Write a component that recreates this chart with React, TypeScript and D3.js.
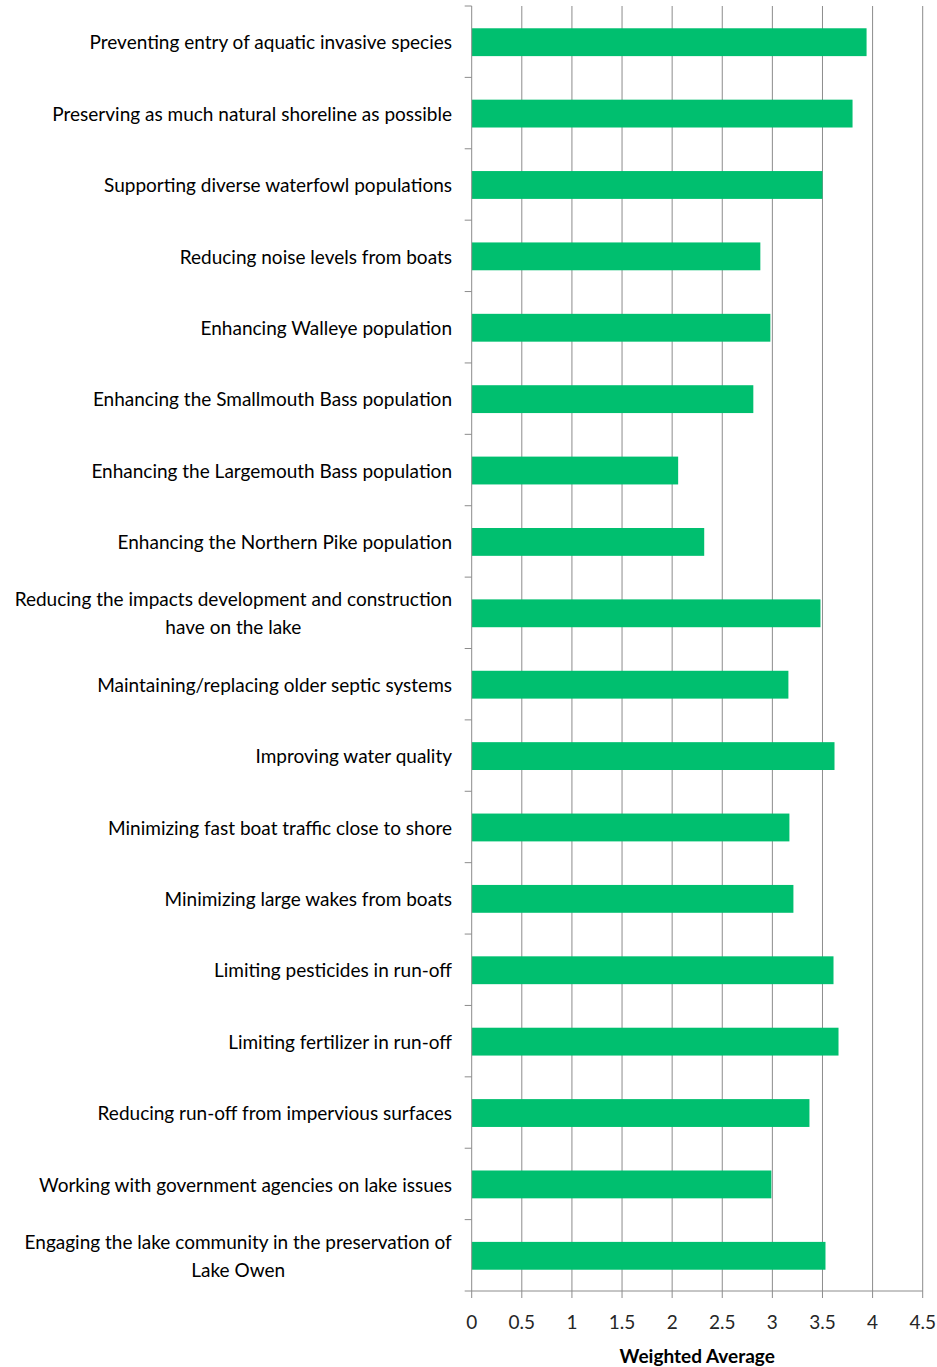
import React from "react";
import * as d3 from "d3";

const categories: string[][] = [
  ["Preventing entry of aquatic invasive species"],
  ["Preserving as much natural shoreline as possible"],
  ["Supporting diverse waterfowl populations"],
  ["Reducing noise levels from boats"],
  ["Enhancing Walleye population"],
  ["Enhancing the Smallmouth Bass population"],
  ["Enhancing the Largemouth Bass population"],
  ["Enhancing the Northern Pike population"],
  ["Reducing the impacts development and construction", "have on the lake"],
  ["Maintaining/replacing older septic systems"],
  ["Improving water quality"],
  ["Minimizing fast boat traffic close to shore"],
  ["Minimizing large wakes from boats"],
  ["Limiting pesticides in run-off"],
  ["Limiting fertilizer in run-off"],
  ["Reducing run-off from impervious surfaces"],
  ["Working with government agencies on lake issues"],
  ["Engaging the lake community in the preservation of", "Lake Owen"],
];

const values: number[] = [
  3.94, 3.8, 3.5, 2.88, 2.98, 2.81, 2.06, 2.32, 3.48, 3.16, 3.62, 3.17, 3.21,
  3.61, 3.66, 3.37, 2.99, 3.53,
];

const xTicks: number[] = [0, 0.5, 1, 1.5, 2, 2.5, 3, 3.5, 4, 4.5];
const axisTitle = "Weighted Average";

const W = 937;
const H = 1367;
const left = 471.7;
const right = 922.7;
const top = 6;
const bottom = 1291;
const font = "Lato, 'Open Sans', sans-serif";
const labelSize = 19;

function measure(s: string): number {
  if (typeof document === "undefined") return s.length * 8.5;
  const c = document.createElement("canvas");
  const ctx = c.getContext("2d");
  if (!ctx) return s.length * 8.5;
  ctx.font = `${labelSize}px Lato, 'Open Sans', sans-serif`;
  return ctx.measureText(s).width;
}

export default function App() {
  const x = d3.scaleLinear().domain([0, 4.5]).range([left, right]);
  const y = d3
    .scaleBand<number>()
    .domain(d3.range(categories.length))
    .range([top, bottom])
    .paddingInner(0.61)
    .paddingOuter(0.305);
  const band = (bottom - top) / categories.length;
  const boundaries = d3.range(categories.length + 1).map((i) => top + i * band);
  const labelRight = 452;

  return (
    <svg
      width={W}
      height={H}
      style={{ position: "absolute", left: 0, top: 0, background: "#fff" }}
      fontFamily={font}
    >
      {xTicks.slice(1).map((t) => (
        <line
          key={"g" + t}
          x1={x(t)}
          x2={x(t)}
          y1={top}
          y2={bottom}
          stroke="#8c8c8c"
          strokeWidth={1}
        />
      ))}
      {values.map((v, i) => (
        <rect
          key={"b" + i}
          x={x(0)}
          y={(y(i) as number) + 0.5}
          width={x(v) - x(0)}
          height={y.bandwidth()}
          fill="#00bf6f"
        />
      ))}
      {/* y axis */}
      <line x1={left} x2={left} y1={top} y2={bottom} stroke="#8c8c8c" strokeWidth={1} />
      {boundaries.map((b, i) => (
        <line key={"yt" + i} x1={left - 7} x2={left} y1={b} y2={b} stroke="#8c8c8c" />
      ))}
      {/* x axis */}
      <line x1={left} x2={right} y1={bottom} y2={bottom} stroke="#8c8c8c" strokeWidth={1} />
      {xTicks.map((t) => (
        <line key={"xt" + t} x1={x(t)} x2={x(t)} y1={bottom} y2={bottom + 7} stroke="#8c8c8c" />
      ))}
      {xTicks.map((t) => (
        <text
          key={"xl" + t}
          x={x(t)}
          y={1329}
          textAnchor="middle"
          fontSize={19}
          fill="#262626"
        >
          {String(t)}
        </text>
      ))}
      <text
        x={(left + right) / 2}
        y={1363}
        textAnchor="middle"
        fontSize={19}
        fontWeight="bold"
        fill="#000"
      >
        {axisTitle}
      </text>
      {categories.map((lines, i) => {
        const cy = (y(i) as number) + y.bandwidth() / 2 + 1;
        const lh = 28;
        const start = cy - ((lines.length - 1) * lh) / 2;
        const maxW = Math.max(...lines.map(measure));
        const cx = labelRight - maxW / 2;
        return (
          <g key={"l" + i}>
            {lines.map((ln, j) => (
              <text
                key={j}
                x={lines.length > 1 ? cx : labelRight}
                y={start + j * lh}
                dy="0.35em"
                textAnchor={lines.length > 1 ? "middle" : "end"}
                fontSize={labelSize}
                fill="#000"
              >
                {ln}
              </text>
            ))}
          </g>
        );
      })}
    </svg>
  );
}
